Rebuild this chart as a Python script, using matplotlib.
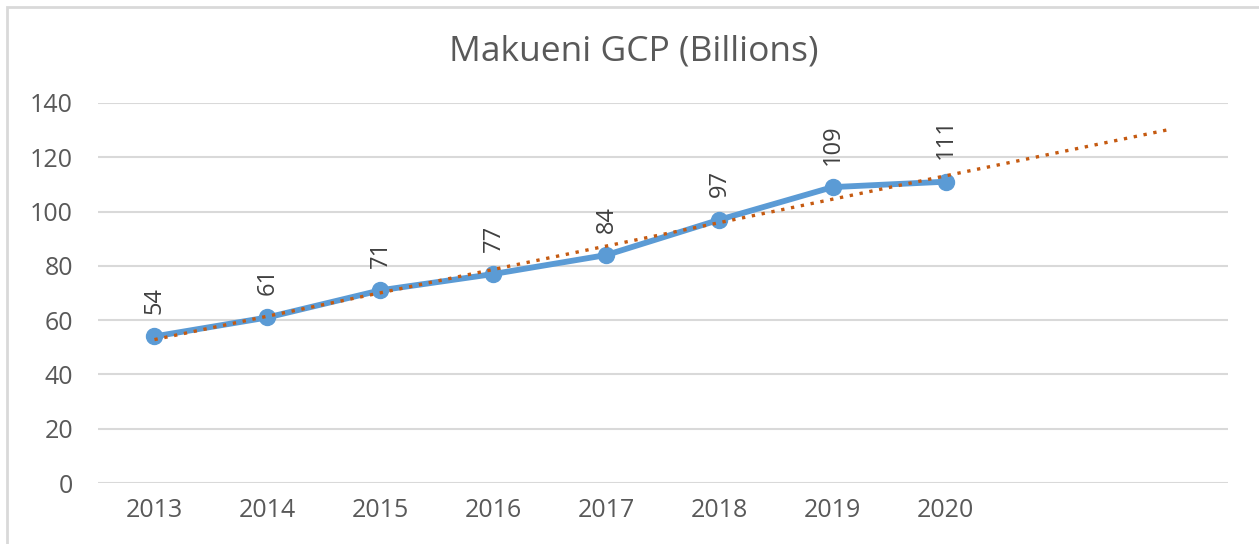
import matplotlib.pyplot as plt
import numpy as np
from matplotlib.patches import Rectangle

years = ["2013", "2014", "2015", "2016", "2017", "2018", "2019", "2020"]
gcp = [54, 61, 71, 77, 84, 97, 109, 111]
forecast_periods = 2

plt.rcParams['font.family'] = ['Open Sans', 'DejaVu Sans']
grey = '#595959'

fig = plt.figure(figsize=(12.59, 5.44), dpi=100)
ax = fig.add_axes([0.0778, 0.1121, 0.8976, 0.6986])

x = np.arange(len(years))
ax.plot(x, gcp, color='#5B9BD5', lw=4.2, marker='o', markersize=11.5,
        solid_capstyle='round', zorder=3)

# linear trendline, forecast forward
slope, icpt = np.polyfit(x, gcp, 1)
xt = np.array([0, len(years) - 1 + forecast_periods])
ax.plot(xt, icpt + slope * xt, color='#C55A11', lw=2.4, ls=(0, (1, 2.0)),
        zorder=4)

for xi, v in zip(x, gcp):
    ax.annotate(str(v), (xi, v), xytext=(0, 16), textcoords='offset points',
                rotation=90, ha='center', va='bottom', fontsize=17, color='#404040')

ax.set_xlim(-0.5, len(years) - 1 + forecast_periods + 0.5)
ax.set_ylim(0, 140)
ax.set_yticks(range(0, 141, 20))
ax.set_xticks(x)
ax.set_xticklabels(years)
ax.tick_params(length=0, labelsize=18, colors=grey, pad=11)
ax.tick_params(axis='y', pad=18)
ax.grid(axis='y', color='#D9D9D9', lw=1.5)
ax.set_axisbelow(True)
for s in ax.spines.values():
    s.set_visible(False)

fig.text(0.503, 0.905, "Makueni GCP (Billions)", ha='center', va='center',
         fontsize=25.5, color=grey)

# chart frame
fig.patches.append(Rectangle((7 / 1259, -0.05), 1.1, 1 - 7 / 544 + 0.05,
                             transform=fig.transFigure, fill=False,
                             edgecolor='#D9D9D9', lw=2))

fig.savefig('out.png', dpi=100)
